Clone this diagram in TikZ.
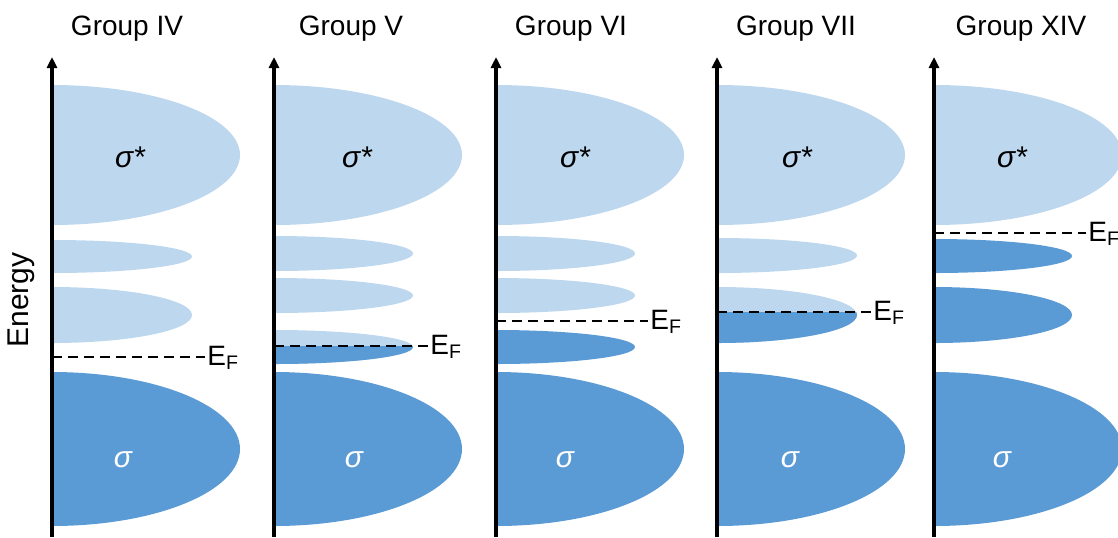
\documentclass[tikz,border=0pt]{standalone}
\usepackage{fontspec}
\setmainfont{Liberation Sans}
\usetikzlibrary{arrows.meta}

\definecolor{bandlight}{HTML}{BDD7EE}
\definecolor{banddark}{HTML}{5B9BD5}

% half band: axis x, centre y, x radius, y radius, colour
\newcommand{\halfband}[5]{%
  \fill[#5] (#1,#2-#4) arc[start angle=-90,end angle=90,x radius=#3,y radius=#4] -- cycle;}

\begin{document}
\begin{tikzpicture}[
  x=0.5pt,y=-0.5pt,
  every node/.style={font=\fontsize{14}{17}\selectfont,inner sep=0pt},
  axis/.style={line width=1.6pt,-{Triangle[length=5.5pt,width=5pt]}},
  efline/.style={line width=1.1pt,dash pattern=on 5pt off 3pt},
  lbl/.style={anchor=base,font=\fontsize{15}{18}\selectfont\itshape},
  eflbl/.style={anchor=base west}
]
\useasboundingbox (0,0) rectangle (1118,537);

% sigma* and sigma bands, titles
\foreach \ax/\tx/\grp/\sx/\bx [count=\i] in {52/127/IV/130/123, 274/351/V/357/354,
    496/571/VI/575/565, 717/796/VII/797/790, 934/1021/XIV/1012/1002}{
  \halfband{\ax}{155}{188}{70}{bandlight}
  \halfband{\ax}{449}{188}{77}{banddark}
  \node[lbl] (sstar\i) at (\sx,167) {σ*};
  \node[lbl,white] (sig\i) at (\bx,467) {σ};
  \node[anchor=base] (title\i) at (\tx,35) {Group \grp};
}

% Group IV
\halfband{52}{256.5}{140}{16.5}{bandlight}
\halfband{52}{315}{140}{28}{bandlight}

% Group V
\halfband{274}{253.5}{139}{17.5}{bandlight}
\halfband{274}{295.5}{139}{17.5}{bandlight}
\halfband{274}{347}{139}{17}{bandlight}
\begin{scope}
  \clip (274,346) rectangle (420,370);
  \halfband{274}{347}{139}{17}{banddark}
\end{scope}

% Group VI
\halfband{496}{253.5}{139}{17.5}{bandlight}
\halfband{496}{295.5}{139}{17.5}{bandlight}
\halfband{496}{347}{139}{17}{banddark}

% Group VII
\halfband{717}{255.5}{140}{17.5}{bandlight}
\halfband{717}{315}{140}{28}{bandlight}
\begin{scope}
  \clip (717,312) rectangle (860,345);
  \halfband{717}{315}{140}{28}{banddark}
\end{scope}

% Group XIV
\halfband{934}{256}{138}{17}{banddark}
\halfband{934}{315}{138}{28}{banddark}

% axes
\foreach \ax [count=\i] in {52,274,496,717,934}{
  \coordinate (bot\i) at (\ax,537);
  \coordinate (top\i) at (\ax,57);
  \draw[axis] (bot\i) -- (top\i);
}

\node[rotate=90,font=\fontsize{15}{18}\selectfont] (energy) at (21,300) {Energy};

% Fermi levels
\foreach \ax/\fy/\lx [count=\i] in {52/357/207, 274/346/430, 496/321/650, 717/312/873, 934/233/1088}{
  \coordinate (f\i) at (\ax,\fy);
  \node[eflbl] (ef\i) at (\lx,\fy+8) {E\textsubscript{F}};
  \draw[efline] (f\i) -- ([xshift=-1pt]f\i -| ef\i.west);
}
\end{tikzpicture}
\end{document}
